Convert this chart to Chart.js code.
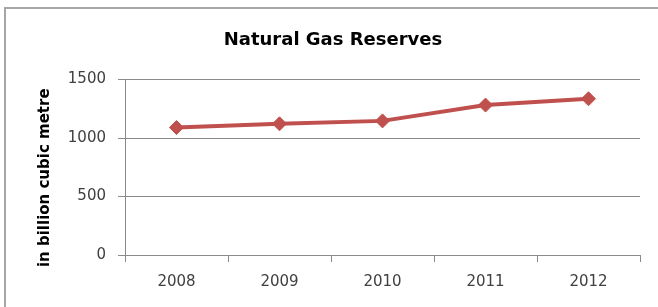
<!DOCTYPE html>
<html>
<head>
<meta charset="utf-8">
<script src="https://cdn.jsdelivr.net/npm/chart.js@4"></script>
<style>
  html, body { margin: 0; padding: 0; background: #fff; overflow: hidden; }
</style>
</head>
<body>
<canvas id="myChart" width="658" height="307"></canvas>
<script>
const years = ['2008', '2009', '2010', '2011', '2012'];
const reserves = [1090, 1122, 1147, 1282, 1336];
const yTicks = [0, 500, 1000, 1500];

const font = '"DejaVu Sans", sans-serif';

// outer chart frame, only its top and left edges are inside the picture
const framePlugin = {
    id: 'frame',
    beforeDraw(chart) {
        const c = chart.ctx;
        c.save();
        c.strokeStyle = '#a6a6a6';
        c.lineWidth = 2;
        c.beginPath();
        c.moveTo(5, chart.height);
        c.lineTo(5, 8);
        c.lineTo(chart.width, 8);
        c.stroke();
        c.restore();
    }
};

const ctx = document.getElementById('myChart').getContext('2d');
const myChart = new Chart(ctx, {
    type: 'line',
    data: {
        labels: years,
        datasets: [{
            label: 'Natural Gas Reserves',
            data: reserves,
            borderColor: '#c0504d',
            backgroundColor: '#c0504d',
            borderWidth: 4,
            pointStyle: 'rectRot',
            pointRadius: 7,
            pointHoverRadius: 7,
            pointBorderWidth: 1,
            tension: 0
        }]
    },
    plugins: [framePlugin],
    options: {
        responsive: false,
        animation: false,
        layout: { padding: { left: 26, right: 18, top: 0, bottom: 0 } },
        plugins: {
            legend: { display: false },
            tooltip: { enabled: false },
            title: {
                display: true,
                text: 'Natural Gas Reserves',
                color: '#000',
                font: { family: font, size: 18, weight: 'bold' },
                padding: { top: 30, bottom: 28 }
            }
        },
        scales: {
            x: {
                offset: true,
                grid: {
                    offset: true,
                    drawOnChartArea: false,
                    color: '#8a8a8a',
                    tickLength: 7
                },
                border: { color: '#8a8a8a', width: 1 },
                ticks: { color: '#404040', font: { family: font, size: 15 }, padding: 11 },
                afterFit: s => { s.height = 52; }
            },
            y: {
                min: 0,
                max: 1500,
                afterBuildTicks: s => { s.ticks = yTicks.map(v => ({ value: v })); },
                grid: { color: '#8a8a8a', tickLength: 7 },
                border: { color: '#8a8a8a', width: 1 },
                ticks: {
                    color: '#404040',
                    font: { family: font, size: 15 },
                    padding: 12,
                    callback: v => String(v)
                },
                title: {
                    display: true,
                    // trailing spaces nudge the rotated label down like the original
                    text: 'in billion cubic metre    ',
                    color: '#000',
                    font: { family: font, size: 15, weight: 'bold' },
                    padding: { top: 10, bottom: 0 }
                },
                afterFit: s => { s.width = 99; }
            }
        }
    }
});
</script>
</body>
</html>
